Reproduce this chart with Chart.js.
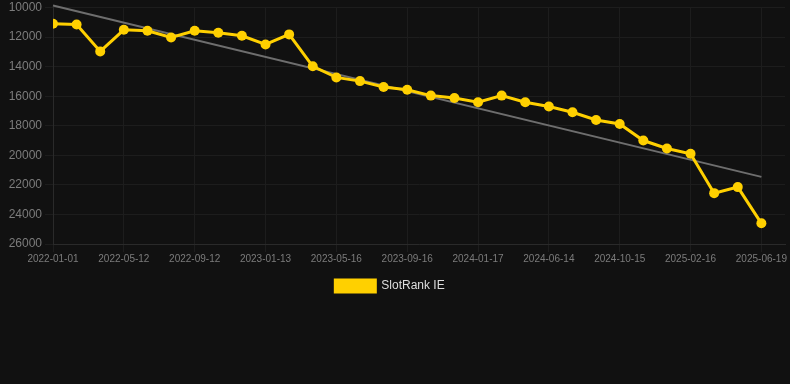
<!DOCTYPE html>
<html>
<head>
<meta charset="utf-8">
<script src="https://cdn.jsdelivr.net/npm/chart.js@4/dist/chart.umd.min.js"></script>
<style>
  html, body { margin: 0; padding: 0; background: #111111; }
  #wrap { width: 790px; height: 302px; position: relative; }
</style>
</head>
<body>
<div id="wrap"><canvas id="chartRank"></canvas></div>
<script>
// dates shown on the x axis (one per data point, every 3rd is labelled)
const dates = [
  "2022-01-01", "2022-02-14", "2022-03-28", "2022-05-12", "2022-06-22", "2022-08-02",
  "2022-09-12", "2022-10-23", "2022-12-03", "2023-01-13", "2023-02-23", "2023-04-05",
  "2023-05-16", "2023-06-26", "2023-08-06", "2023-09-16", "2023-10-27", "2023-12-07",
  "2024-01-17", "2024-03-05", "2024-04-25", "2024-06-14", "2024-07-25", "2024-09-04",
  "2024-10-15", "2024-11-25", "2025-01-05", "2025-02-16", "2025-03-29", "2025-05-09",
  "2025-06-19",
];

// SlotRank IE rank per date
const rankIE = [
  11100, 11150, 12970, 11510, 11570, 12030, 11570, 11710, 11910, 12500, 11820, 13980,
  14730, 14980, 15380, 15560, 15960, 16120, 16410, 15960, 16410, 16700, 17090, 17610,
  17880, 19000, 19540, 19900, 22560, 22150, 24600,
];

// trend line ends (first and last date)
const trendStart = 9865;
const trendEnd = 21460;

const yTicks = [10000, 12000, 14000, 16000, 18000, 20000, 22000, 24000, 26000];

const rankPoints = rankIE.map((v, i) => ({ x: i, y: v }));
const trendPoints = [
  { x: 0, y: trendStart },
  { x: dates.length - 1, y: trendEnd },
];

const ctx = document.getElementById("chartRank").getContext("2d");
new Chart(ctx, {
  type: "line",
  data: {
    datasets: [
      {
        label: "SlotRank IE",
        data: rankPoints,
        borderColor: "#ffd000",
        backgroundColor: "#ffd000",
        borderWidth: 3,
        pointRadius: 5,
        pointBackgroundColor: "#ffd000",
        pointBorderWidth: 0,
        tension: 0,
      },
      {
        label: "trend",
        data: trendPoints,
        borderColor: "#6e6e6e",
        borderWidth: 2,
        pointRadius: 0,
        clip: false,
      },
    ],
  },
  options: {
    responsive: true,
    maintainAspectRatio: false,
    animation: false,
    layout: { padding: { left: -10, right: 0, top: 0 } },
    plugins: {
      legend: {
        position: "bottom",
        labels: {
          color: "#dddddd",
          font: { family: "Arial, 'Liberation Sans', sans-serif", size: 12 },
          boxWidth: 40,
          boxHeight: 12,
          padding: 14,
          filter: (item) => item.text !== "trend",
        },
      },
      tooltip: { enabled: false },
    },
    scales: {
      x: {
        type: "linear",
        min: 0,
        max: 31,
        grid: { color: "#1d1d1d", tickLength: 8 },
        border: { color: "#2a2a2a" },
        ticks: {
          stepSize: 3,
          includeBounds: false,
          maxRotation: 0,
          autoSkip: false,
          padding: 1,
          color: "#7c7c7c",
          font: { family: "Arial, 'Liberation Sans', sans-serif", size: 10 },
          callback: (v) => (Number.isInteger(v) && dates[v] ? dates[v] : ""),
        },
      },
      y: {
        reverse: true,
        min: 10000,
        max: 26000,
        grid: { color: "#1d1d1d", tickLength: 8 },
        border: { color: "#2a2a2a" },
        afterBuildTicks: (axis) => {
          axis.ticks = yTicks.map((v) => ({ value: v }));
        },
        afterFit: (axis) => {
          axis.width = 63;
        },
        ticks: {
          color: "#7c7c7c",
          font: { family: "Arial, 'Liberation Sans', sans-serif", size: 12, lineHeight: 0.75 },
          callback: (v) => String(v),
        },
      },
    },
  },
});
</script>
</body>
</html>
